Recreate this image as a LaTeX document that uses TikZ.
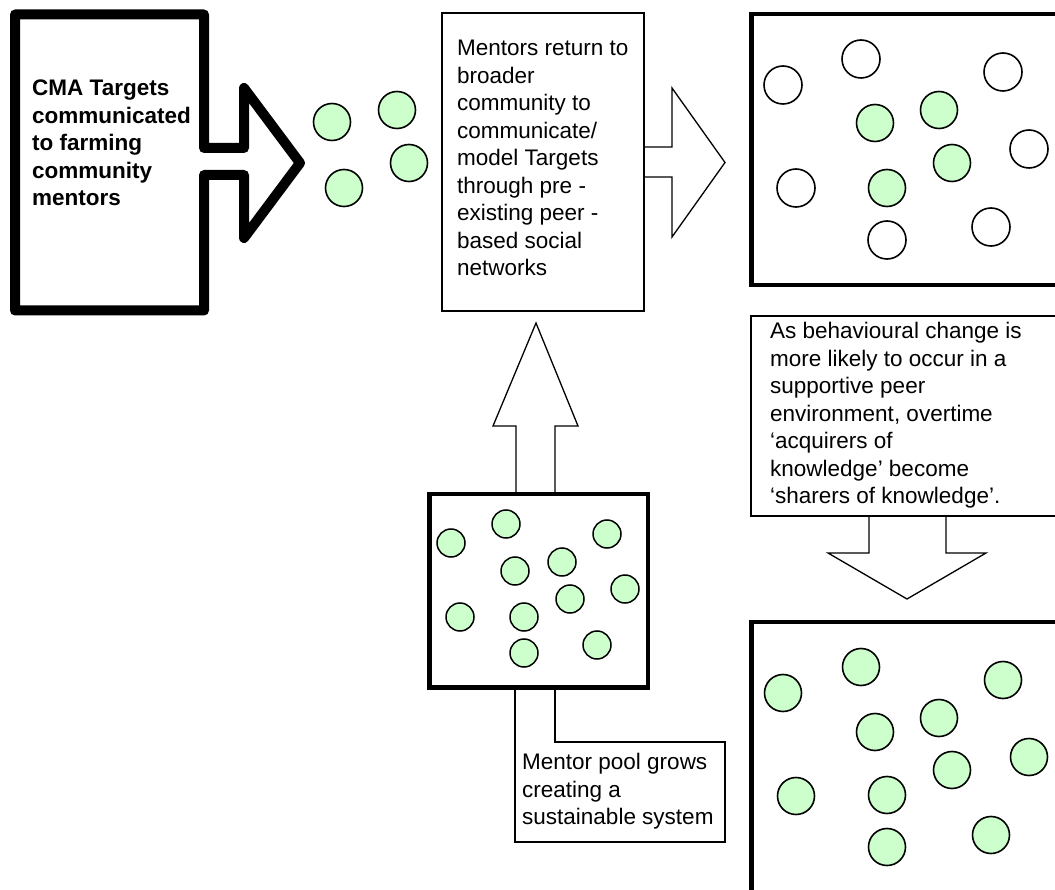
\documentclass[tikz,border=0pt]{standalone}
\usepackage{fontspec}
\setmainfont{Liberation Sans}
\begin{document}
\begin{tikzpicture}[x=1pt,y=-1pt,
  heavyshape/.style={draw, line width=10pt, line join=round, fill=white},
  thickbox/.style={draw, line width=4.5pt, fill=white},
  thinshape/.style={draw, line width=1.3pt, line join=miter, fill=white},
  txt/.style={align=left, inner sep=0pt, anchor=north west, font=\fontsize{22.5}{27.5}\selectfont},
  gc/.style={circle, draw, line width=1.6pt, fill=green!20, minimum size=37pt, inner sep=0pt},
  wc/.style={circle, draw, line width=1.6pt, fill=white, minimum size=38pt, inner sep=0pt},
  sc/.style={circle, draw, line width=1.5pt, fill=green!20, minimum size=28pt, inner sep=0pt}]
\useasboundingbox (0,0) rectangle (1055,890);
\clip (0,0) rectangle (1055,890);
\fill[white] (0,0) rectangle (1055,890);

% left heavy box with arrow
\draw[heavyshape] (15,14.5) -- (204,14.5) -- (204,148) -- (244,148) -- (244,88) -- (300,163)
  -- (244,238) -- (244,175) -- (204,175) -- (204,310.5) -- (15,310.5) -- cycle;
\node[txt, font=\fontsize{22.5}{27.5}\selectfont\bfseries] (cma) at (32,80)
  {CMA Targets\\communicated\\to farming\\community\\mentors};

% four mentors
\node[gc] (m1) at (332,122) {};
\node[gc] (m2) at (397,110) {};
\node[gc] (m3) at (409,163) {};
\node[gc] (m4) at (344,188) {};

% middle text box and right arrow
\draw[thinshape] (644,147) -- (672,147) -- (672,88) -- (725,162.5) -- (672,237) -- (672,177) -- (644,177);
\draw[thinshape] (442,13) rectangle (644,311);
\node[txt] (ret) at (457,40)
  {Mentors return to\\broader\\community to\\communicate/\\model Targets\\through pre -\\existing peer -\\based social\\networks};

% top right community box
\draw[thickbox] (751.5,14) rectangle (1080,285);
\foreach \n/\x/\y in {t1/861/59, t2/783/85, t3/1003/72, t4/1029/149, t5/796/188, t6/887/240, t7/991/227}
  \node[wc] (\n) at (\x,\y) {};
\foreach \n/\x/\y in {t8/875/123, t9/939/110, t10/952/163, t11/887/188}
  \node[gc] (\n) at (\x,\y) {};

% annotation box with down arrow
\draw[thinshape] (869,516) -- (869,553) -- (828,553) -- (907,599) -- (986,553) -- (946,553) -- (946,516);
\draw[thinshape] (1080,316) -- (751,316) -- (751,516) -- (1080,516);
\node[txt] (beh) at (770,322)
  {As behavioural change is\\more likely to occur in a\\supportive peer\\environment, overtime\\‘acquirers of\\knowledge’ become\\‘sharers of knowledge’.};

% bottom right community box
\draw[thickbox] (751.5,622) rectangle (1080,910);
\foreach \n/\x/\y in {b1/783/693, b2/861/667, b3/1003/680, b4/875/732, b5/939/718, b6/952/770,
  b7/1029/757, b8/796/796, b9/887/795, b10/887/847, b11/991/835}
  \node[gc] (\n) at (\x,\y) {};

% up arrow, mentor pool box, callout
\draw[thinshape] (516,494) -- (516,426) -- (493,426) -- (536,323) -- (578,426) -- (555,426) -- (555,494);
\draw[thinshape] (515,687.5) -- (515,842) -- (725,842) -- (725,742) -- (555,742) -- (555,687.5);
\draw[thickbox] (429.5,494) rectangle (648,687.5);
\foreach \n/\x/\y in {p1/451/543, p2/506/524, p3/607/534, p4/515/571, p5/562/562, p6/625/589,
  p7/570/599, p8/460/617, p9/524/617, p10/524/653, p11/597/645}
  \node[sc] (\n) at (\x,\y) {};
\node[txt] (pool) at (522,753) {Mentor pool grows\\creating a\\sustainable system};
\end{tikzpicture}
\end{document}
